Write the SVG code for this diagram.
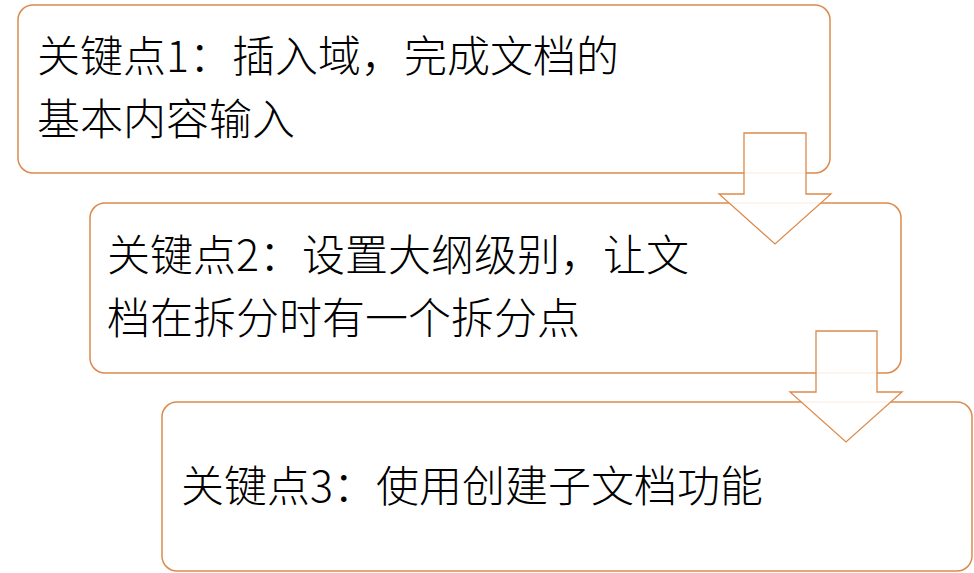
<svg xmlns="http://www.w3.org/2000/svg" width="974" height="573" viewBox="0 0 974 573">
<style>
.box{fill:#ffffff;stroke:#DC8A4C;stroke-width:1.5}
.arr{fill:#ffffff;fill-opacity:0.88;stroke:#DC8A4C;stroke-width:1.3;stroke-linejoin:miter}
.t{font-family:"Microsoft YaHei","Noto Sans CJK SC","Noto Sans",sans-serif;font-size:43px;font-weight:300;fill:#000000}
</style>
<rect width="974" height="573" fill="#ffffff"/>
<g id="node1">
<rect class="box" x="18" y="5" width="812" height="168" rx="15" ry="15"/>
<text class="t" x="37" y="72">关键点1：插入域，完成文档的</text>
<text class="t" x="37" y="135">基本内容输入</text>
</g>
<g id="node2">
<rect class="box" x="90" y="203" width="811" height="170" rx="15" ry="15"/>
<text class="t" x="107" y="271">关键点2：设置大纲级别，让文</text>
<text class="t" x="107" y="334">档在拆分时有一个拆分点</text>
</g>
<g id="node3">
<rect class="box" x="162" y="402" width="810" height="169" rx="15" ry="15"/>
<text class="t" x="181" y="502">关键点3：使用创建子文档功能</text>
</g>
<g id="connectors">
<polygon class="arr" points="744,133 806,133 806,194 831,194 775,244 719,194 744,194"/>
<polygon class="arr" points="816,331 877,331 877,392 902,392 846,442 790,392 816,392"/>
</g>
</svg>
